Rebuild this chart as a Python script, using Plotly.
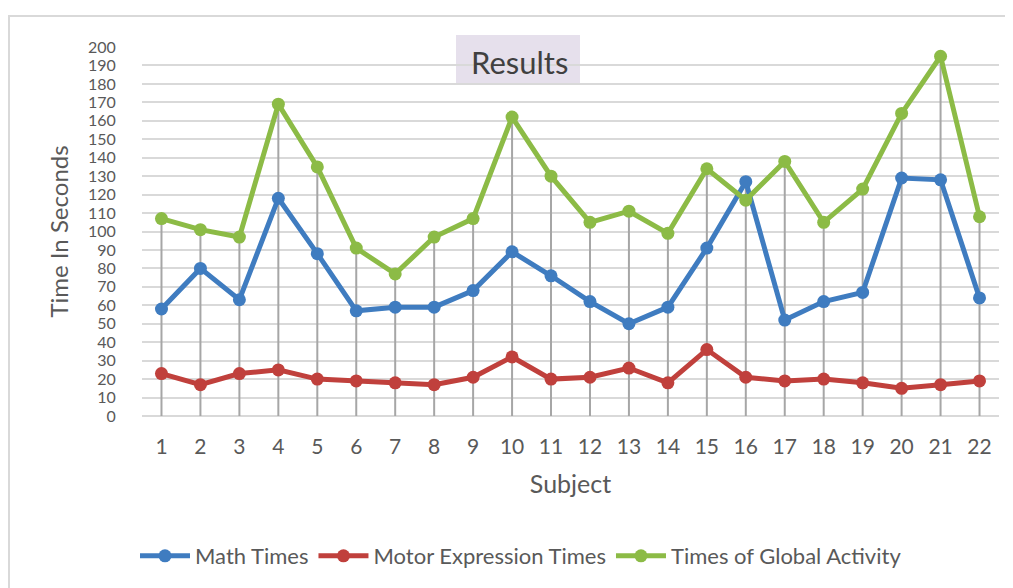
import plotly.graph_objects as go

subjects = list(range(1, 23))
math_times = [58, 80, 63, 118, 88, 57, 59, 59, 68, 89, 76, 62, 50, 59, 91, 127, 52, 62, 67, 129, 128, 64]
motor_times = [23, 17, 23, 25, 20, 19, 18, 17, 21, 32, 20, 21, 26, 18, 36, 21, 19, 20, 18, 15, 17, 19]
global_times = [107, 101, 97, 169, 135, 91, 77, 97, 107, 162, 130, 105, 111, 99, 134, 117, 138, 105, 123, 164, 195, 108]
y_ticks = list(range(0, 201, 10))

BLUE = "#3f7cc0"
RED = "#c0403c"
GREEN = "#8cbb46"

OFF = 8  # browser body margin
W, H = 1013 - OFF, 588 - OFF
L, R, T, B = 142, 999, 47, 416  # plot area in window pixels
PW, PH = R - L, B - T
def px(x):
    return (x - L) / PW
def py(y):
    return (B - y) / PH

fig = go.Figure()

# drop lines from the highest point of each category to the axis
dx, dy = [], []
for i, s in enumerate(subjects):
    top = max(math_times[i], motor_times[i], global_times[i])
    dx += [s, s, None]
    dy += [0, top, None]
fig.add_trace(go.Scatter(x=dx, y=dy, mode="lines", line=dict(color="#a6a6a6", width=2),
                         showlegend=False, hoverinfo="skip"))

for name, vals, col in [("Math Times", math_times, BLUE),
                        ("Motor Expression Times", motor_times, RED),
                        ("Times of Global Activity", global_times, GREEN)]:
    fig.add_trace(go.Scatter(x=subjects, y=vals, name=name, mode="lines+markers",
                             line=dict(color=col, width=5),
                             marker=dict(color=col, size=13)))

fig.update_layout(
    width=W, height=H,
    margin=dict(l=L - OFF, r=W - (R - OFF), t=T - OFF, b=H - (B - OFF), autoexpand=False),
    paper_bgcolor="white", plot_bgcolor="white",
    font=dict(family="Lato, 'Open Sans', sans-serif", color="#595959", size=16),
    showlegend=True,
    legend=dict(orientation="h", x=px(521), xanchor="center", y=py(556), yanchor="middle",
                bgcolor="rgba(0,0,0,0)",
                font=dict(size=22, color="#595959"), itemwidth=50, tracegroupgap=0),
)
fig.update_xaxes(range=[0.5, 22.5], tickvals=subjects, ticktext=[str(s) for s in subjects],
                 showgrid=False, zeroline=False, showline=False,
                 ticks="outside", ticklen=12, tickcolor="rgba(0,0,0,0)",
                 tickfont=dict(size=21, color="#595959"),
                 title=dict(text="Subject", font=dict(size=25, color="#595959"), standoff=18))
fig.update_yaxes(range=[0, 200], tickvals=y_ticks, showgrid=True, gridcolor="#d9d9d9", gridwidth=2,
                 zeroline=True, zerolinecolor="#d9d9d9", zerolinewidth=2,
                 ticks="outside", ticklen=22, tickcolor="rgba(0,0,0,0)",
                 tickfont=dict(family="Lato, sans-serif", size=16, color="#595959"),
                 title=dict(text="Time In Seconds", font=dict(size=24, color="#595959"), standoff=12))

# title box background
fig.add_shape(type="rect", xref="paper", yref="paper", x0=px(456), x1=px(580),
              y0=py(85), y1=py(35), fillcolor="#e6e0ec", line=dict(width=0), layer="below")
fig.add_annotation(text="Results", xref="paper", yref="paper", x=px(519), y=py(62),
                   xanchor="center", yanchor="middle", showarrow=False,
                   font=dict(size=31, color="#404040"))
# outer frame
fig.add_shape(type="rect", xref="paper", yref="paper", x0=px(9), x1=px(1040),
              y0=py(640), y1=py(16), fillcolor="rgba(0,0,0,0)",
              line=dict(color="#d9d9d9", width=2))

fig.write_html("out.html")
